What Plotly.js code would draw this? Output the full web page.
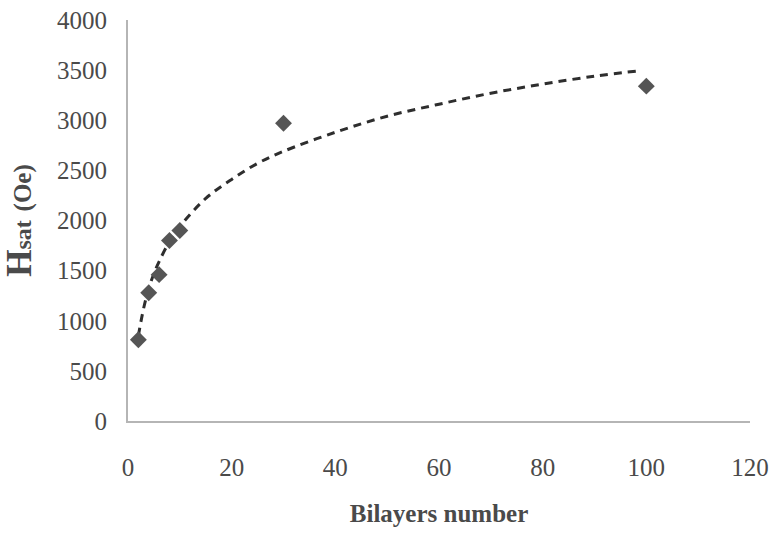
<!DOCTYPE html>
<html>
<head>
<meta charset="utf-8">
<script src="https://cdn.plot.ly/plotly-3.0.1.min.js"></script>
<style>html,body{margin:0;padding:0;background:#fff;}#chart{width:770px;height:547px;}</style>
</head>
<body>
<div id="chart"></div>
<script>
// Measured data points (bilayers number vs saturation field)
var bilayers = [2, 4, 6, 8, 10, 30, 100];
var hsat = [810, 1280, 1460, 1800, 1900, 2970, 3340];

// Dashed trend line
var trendX = [2, 3, 4, 5, 6, 8, 10, 15, 20, 25, 30, 40, 50, 60, 70, 80, 90, 98];
var trendY = [850, 1120, 1320, 1470, 1590, 1790, 1940, 2220, 2410, 2570, 2690, 2880, 3040, 3160, 3270, 3360, 3440, 3490];

var xTicks = [0, 20, 40, 60, 80, 100, 120];
var yTicks = [0, 500, 1000, 1500, 2000, 2500, 3000, 3500, 4000];

var serif = '"Liberation Serif", "DejaVu Serif", serif';

var traces = [
  {
    x: trendX, y: trendY, type: 'scatter', mode: 'lines',
    line: {color: '#2e2e2e', width: 3, dash: '8px,6px', shape: 'spline'},
    hoverinfo: 'skip', showlegend: false
  },
  {
    x: bilayers, y: hsat, type: 'scatter', mode: 'markers',
    marker: {symbol: 'diamond', size: 13, color: '#555555'},
    showlegend: false
  }
];

var layout = {
  width: 770, height: 547,
  margin: {l: 128, r: 20, t: 20, b: 126},
  paper_bgcolor: '#ffffff', plot_bgcolor: '#ffffff',
  font: {family: serif, color: '#4a4a4a', size: 25},
  showlegend: false,
  xaxis: {
    range: [0, 120], tickvals: xTicks, ticktext: xTicks.map(String),
    showgrid: false, zeroline: false,
    showline: true, linecolor: '#b5b5b5', linewidth: 2,
    ticks: 'outside', ticklen: 23, tickcolor: 'rgba(0,0,0,0)',
    tickfont: {family: serif, size: 25, color: '#4a4a4a'},
    title: {text: '<b>Bilayers number</b>', font: {family: serif, size: 25, color: '#4a4a4a'}, standoff: 24}
  },
  yaxis: {
    range: [0, 4000], tickvals: yTicks, ticktext: yTicks.map(String),
    showgrid: false, zeroline: false,
    showline: true, linecolor: '#b5b5b5', linewidth: 2,
    ticks: 'outside', ticklen: 14, tickcolor: 'rgba(0,0,0,0)',
    tickfont: {family: serif, size: 25, color: '#4a4a4a'},
    title: {
      text: '<b>H</b><b><span style="font-size:24px">sat</span></b> <b><span style="font-size:25px">(Oe)</span></b>',
      font: {family: serif, size: 35, color: '#4a4a4a'}, standoff: 20
    }
  }
};

Plotly.newPlot('chart', traces, layout, {displayModeBar: false, staticPlot: true});
</script>
</body>
</html>
